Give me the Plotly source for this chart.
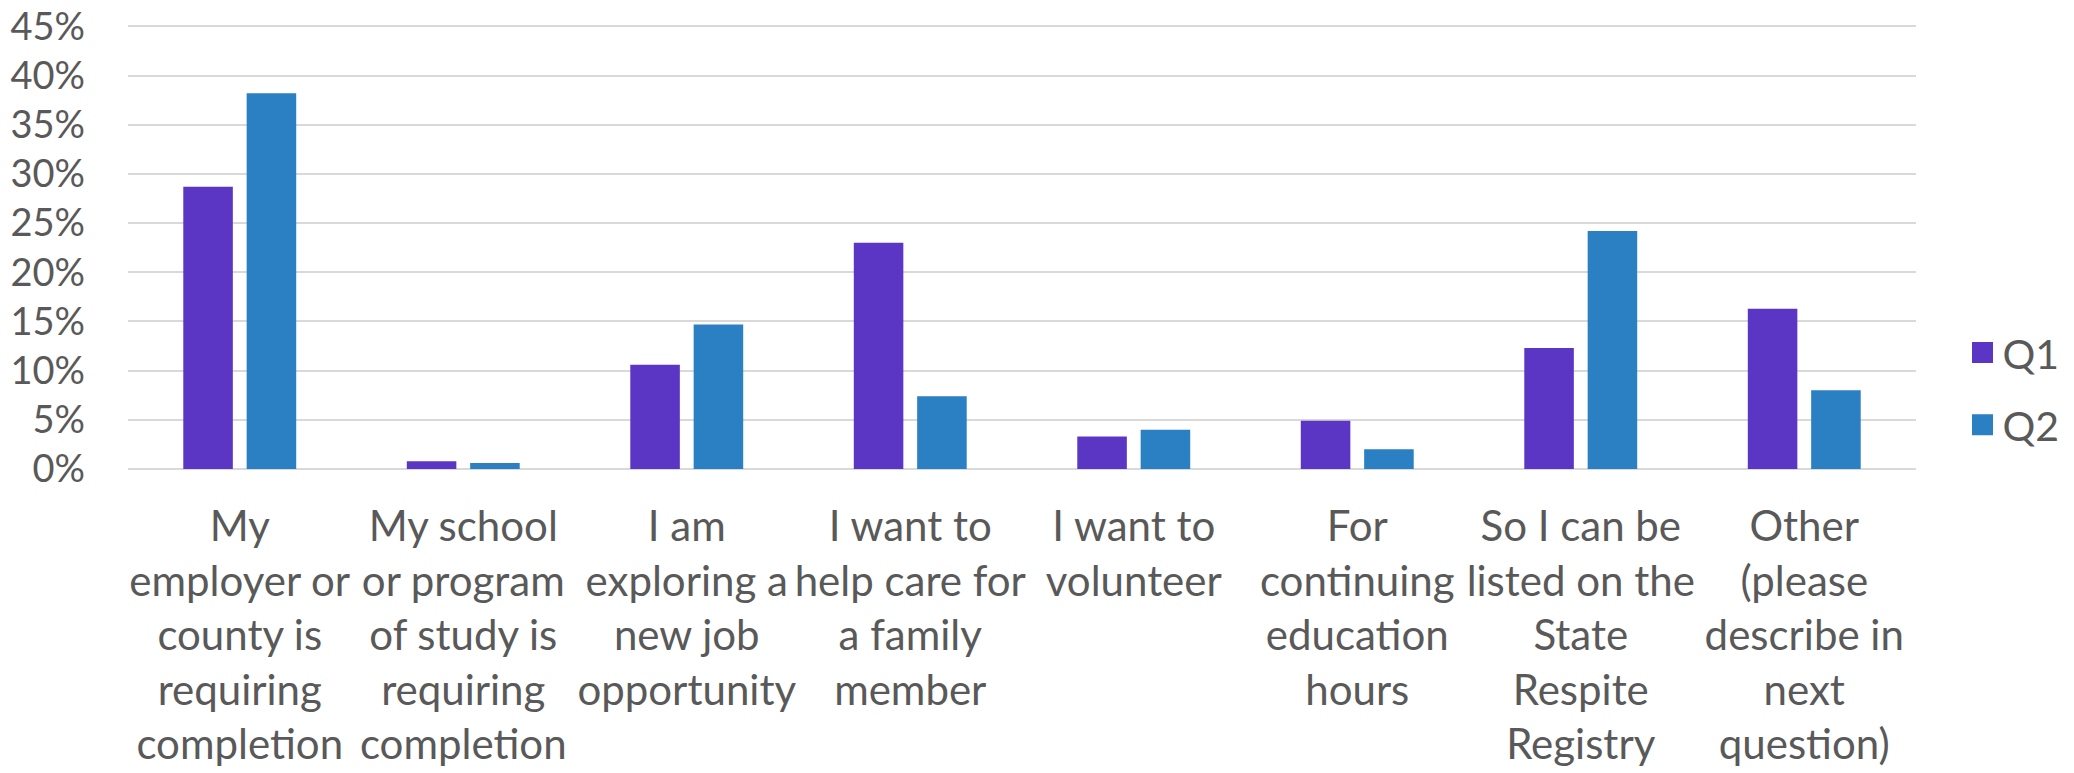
import plotly.graph_objects as go

categories = [
    "My<br>employer or<br>county is<br>requiring<br>completion",
    "My school<br>or program<br>of study is<br>requiring<br>completion",
    "I am<br>exploring a<br>new job<br>opportunity",
    "I want to<br>help care for<br>a family<br>member",
    "I want to<br>volunteer",
    "For<br>continuing<br>education<br>hours",
    "So I can be<br>listed on the<br>State<br>Respite<br>Registry",
    "Other<br>(please<br>describe in<br>next<br>question)",
]
q1_values = [0.287, 0.008, 0.106, 0.230, 0.033, 0.049, 0.123, 0.163]
q2_values = [0.382, 0.006, 0.147, 0.074, 0.040, 0.020, 0.242, 0.080]
series_names = ["Q1", "Q2"]
series_colors = ["#5B36C5", "#2A80C2"]
y_tick_values = [0, 0.05, 0.10, 0.15, 0.20, 0.25, 0.30, 0.35, 0.40, 0.45]

FONT = "Lato"
TEXT_COLOR = "#595959"
GRID_COLOR = "#D9D9D9"

fig = go.Figure()
for name, vals, col in zip(series_names, [q1_values, q2_values], series_colors):
    fig.add_trace(go.Bar(
        x=categories, y=vals, name=name, marker_color=col,
        marker_line_width=0, showlegend=False, legendgroup=name,
    ))
for name, col in zip(series_names, series_colors):
    fig.add_trace(go.Scatter(
        x=[categories[0]], y=[None], mode="markers", name=name, legendgroup=name,
        marker=dict(symbol="square", size=16, color=col, line=dict(color=col, width=5)),
        showlegend=True, hoverinfo="skip",
    ))

fig.update_layout(
    width=2074, height=773,
    margin=dict(l=128, r=158, t=24, b=304, autoexpand=False),
    paper_bgcolor="white", plot_bgcolor="white",
    barmode="group", bargap=0.433, bargroupgap=0.218,
    font=dict(family=FONT, size=42, color=TEXT_COLOR),
    legend=dict(
        x=1.026, xanchor="left", y=0.18, yanchor="middle",
        font=dict(family=FONT, size=41, color=TEXT_COLOR),
        tracegroupgap=16, bgcolor="rgba(0,0,0,0)", itemclick=False,
    ),
)
fig.update_xaxes(
    type="category", tickangle=0, showgrid=False, showline=False,
    ticks="", ticklabelstandoff=29, automargin=False,
    tickfont=dict(family=FONT, size=42, color=TEXT_COLOR),
)
fig.update_yaxes(
    range=[0, 0.4525], tickvals=y_tick_values, tickformat=".0%",
    showgrid=True, gridcolor=GRID_COLOR, gridwidth=2,
    zeroline=True, zerolinecolor=GRID_COLOR, zerolinewidth=2,
    showline=False, ticks="", ticklabelstandoff=42, automargin=False,
    tickfont=dict(family=FONT, size=38, color=TEXT_COLOR),
)

# remove the default 8px page margin so the figure sits at the window's top-left corner
fig.write_html(
    "out.html",
    config={"displayModeBar": False},
    post_script="document.body.style.margin='0';",
)
